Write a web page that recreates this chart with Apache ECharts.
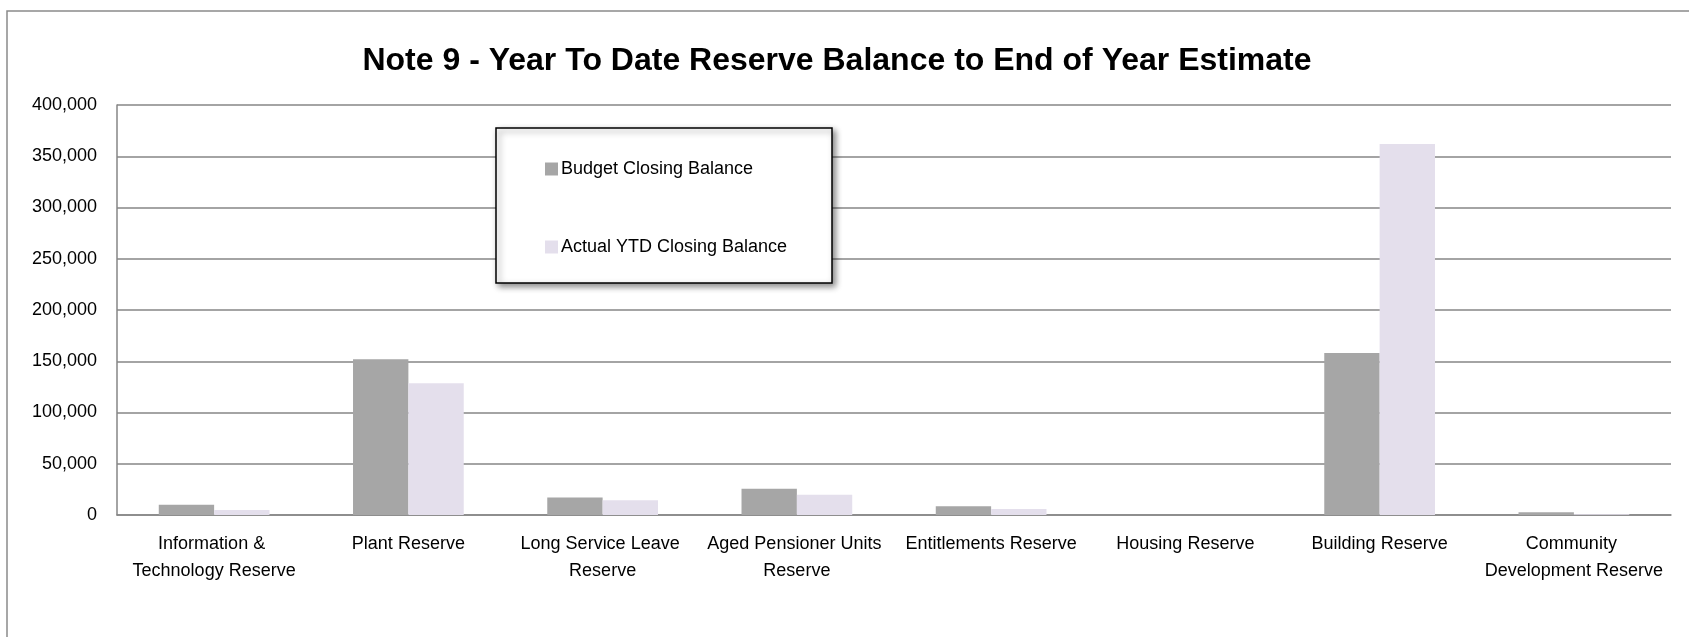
<!DOCTYPE html>
<html>
<head>
<meta charset="utf-8">
<script src="https://cdn.jsdelivr.net/npm/echarts@6/dist/echarts.min.js"></script>
<style>
html,body{margin:0;padding:0;background:#fff;}
#chart{width:1689px;height:637px;}
</style>
</head>
<body>
<div id="chart"></div>
<script>
const categories = [
  'Information & Technology Reserve',
  'Plant Reserve',
  'Long Service Leave Reserve',
  'Aged Pensioner Units Reserve',
  'Entitlements Reserve',
  'Housing Reserve',
  'Building Reserve',
  'Community Development Reserve'
];
const budgetClosing = [10000, 152000, 17000, 25500, 8500, 0, 158000, 2600];
const actualClosing = [5000, 128500, 14300, 19800, 5900, 0, 362000, 700];
const seriesNames = ['Budget Closing Balance', 'Actual YTD Closing Balance'];
const titleText = 'Note 9 - Year To Date Reserve Balance to End of Year Estimate';

const FONT = '"Liberation Sans", Arial, sans-serif';
const chart = echarts.init(document.getElementById('chart'), null, {renderer: 'canvas'});
chart.setOption({
  animation: false,
  backgroundColor: '#ffffff',
  title: {
    text: titleText,
    left: 832,
    textAlign: 'center',
    top: 40,
    textStyle: {fontFamily: FONT, fontWeight: 'bold', fontSize: 32, color: '#000'}
  },
  graphic: [
    {type: 'rect', z: -10, silent: true,
     shape: {x: 7, y: 11, width: 1760, height: 700},
     style: {fill: 'none', stroke: '#8a8a8a', lineWidth: 1.5}},
    {type: 'rect', z: 50, silent: true,
     shape: {x: 496, y: 128, width: 336, height: 155},
     style: {fill: '#ffffff', stroke: '#000000', lineWidth: 1.5,
             shadowBlur: 6, shadowOffsetX: 3, shadowOffsetY: 3, shadowColor: 'rgba(0,0,0,0.45)'}}
  ],
  legend: {
    z: 60,
    orient: 'vertical',
    left: 540,
    top: 155,
    itemWidth: 13,
    itemHeight: 13,
    itemGap: 60,
    icon: 'rect',
    data: seriesNames,
    textStyle: {fontFamily: FONT, fontSize: 18, color: '#000', padding: [0, 0, 0, -2]}
  },
  grid: {left: 117, right: 18, top: 105, bottom: 122, containLabel: false},
  xAxis: {
    type: 'category',
    data: categories,
    axisLine: {lineStyle: {color: '#868686', width: 1.5}},
    axisTick: {show: false},
    axisLabel: {
      interval: 0,
      margin: 16,
      fontFamily: FONT, fontSize: 18, color: '#000', lineHeight: 27,
      width: 192, overflow: 'break', align: 'center'
    }
  },
  yAxis: {
    type: 'value',
    min: 0, max: 400000, interval: 50000,
    axisLine: {show: true, lineStyle: {color: '#868686', width: 1.5}},
    axisTick: {show: false},
    splitLine: {lineStyle: {color: '#868686', width: 1.5}},
    axisLabel: {
      margin: 20,
      fontFamily: FONT, fontSize: 18, color: '#000',
      formatter: v => v.toLocaleString('en-US')
    }
  },
  series: [
    {name: seriesNames[0], type: 'bar', data: budgetClosing,
     itemStyle: {color: '#a6a6a6'}, barGap: '0%', barCategoryGap: '43%'},
    {name: seriesNames[1], type: 'bar', data: actualClosing,
     itemStyle: {color: '#e4dfec'}, barGap: '0%', barCategoryGap: '43%'}
  ]
});
</script>
</body>
</html>
